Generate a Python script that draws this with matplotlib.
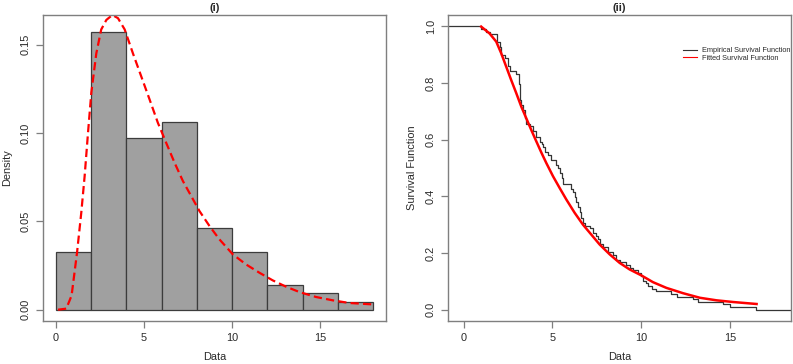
import numpy as np
import matplotlib
matplotlib.use("Agg")
import matplotlib.pyplot as plt

plt.rcParams['font.family'] = ['Liberation Sans', 'DejaVu Sans']

# ---------------- data ----------------
# (i) histogram (bins of width 2) and fitted density curve
bin_edges = [0, 2, 4, 6, 8, 10, 12, 14, 16, 18]
hist_density = [0.0324, 0.1574, 0.0972, 0.1065, 0.0463, 0.0324, 0.0139, 0.0093, 0.0046]

pdf_x = [0.13, 0.6, 0.9, 1.21, 1.45, 1.64, 1.83, 2.02, 2.30, 2.58, 2.87, 3.21, 3.53,
         3.91, 4.38, 4.85, 5.32, 5.79, 6.26, 6.74, 7.21, 7.68, 8.15, 8.72, 9.28,
         10.04, 10.79, 11.55, 12.30, 13.06, 13.81, 14.75, 15.70, 16.64, 17.96]
pdf_y = [0.0, 0.0006, 0.008, 0.0324, 0.055, 0.0756, 0.100, 0.123, 0.145, 0.1586, 0.164,
         0.1668, 0.165, 0.1586, 0.145, 0.132, 0.119, 0.1058, 0.0945, 0.0831, 0.0728,
         0.0643, 0.0558, 0.0473, 0.0398, 0.0313, 0.0256, 0.0209, 0.0166, 0.0130,
         0.0100, 0.0072, 0.0053, 0.0038, 0.0030]

# (ii) empirical survival function (step knots) and fitted survival curve
esf_x = [-1.0, 0.98, 1.26, 1.45, 1.87, 2.07, 2.11, 2.30, 2.48, 2.63, 2.95, 3.14, 3.18,
         3.25, 3.33, 3.45, 3.52, 3.75, 3.90, 4.08, 4.27, 4.40, 4.46, 4.60, 4.75, 4.93,
         5.22, 5.30, 5.40, 5.55, 5.59, 6.06, 6.15, 6.25, 6.35, 6.44, 6.55, 6.63, 6.72,
         6.81, 7.10, 7.29, 7.45, 7.57, 7.70, 7.85, 8.13, 8.41, 8.60, 8.79, 9.17, 9.35,
         9.54, 9.80, 10.01, 10.11, 10.25, 10.39, 10.60, 10.86, 11.71, 12.00, 12.93,
         13.21, 14.63, 15.00, 16.50, 19.0]
esf_y = [1.0, 0.991, 0.981, 0.972, 0.944, 0.926, 0.898, 0.889, 0.861, 0.843, 0.833,
         0.796, 0.741, 0.722, 0.704, 0.676, 0.657, 0.648, 0.630, 0.611, 0.593, 0.583,
         0.574, 0.556, 0.546, 0.528, 0.509, 0.500, 0.481, 0.463, 0.444, 0.426, 0.417,
         0.398, 0.380, 0.361, 0.343, 0.324, 0.306, 0.296, 0.287, 0.269, 0.259, 0.250,
         0.231, 0.222, 0.204, 0.194, 0.176, 0.167, 0.157, 0.148, 0.139, 0.130, 0.120,
         0.102, 0.093, 0.083, 0.074, 0.065, 0.056, 0.046, 0.037, 0.028, 0.019, 0.009,
         0.0, 0.0]

fit_x = [0.98, 1.45, 1.83, 2.11, 2.39, 2.67, 2.96, 3.24, 3.52, 3.80, 4.09, 4.37, 4.65,
         5.03, 5.40, 5.78, 6.25, 6.72, 7.19, 7.66, 8.23, 8.79, 9.35, 10.01, 10.67,
         11.42, 12.37, 13.31, 14.25, 15.19, 16.51]
fit_y = [0.999, 0.975, 0.946, 0.905, 0.858, 0.811, 0.764, 0.717, 0.676, 0.635, 0.594,
         0.555, 0.518, 0.471, 0.430, 0.389, 0.342, 0.300, 0.265, 0.230, 0.195, 0.165,
         0.142, 0.121, 0.097, 0.077, 0.058, 0.042, 0.033, 0.027, 0.020]

titles = ["(i)", "(ii)"]
legend_labels = ["Empirical Survival Function", "Fitted Survival Function"]

# ---------------- figure ----------------
W, H = 793, 364
fig = plt.figure(figsize=(W / 100, H / 100), dpi=100)

def px_axes(l, r, t, b):
    return fig.add_axes([l / W, 1 - b / H, (r - l) / W, (b - t) / H])

ax1 = px_axes(43, 386, 15, 321)
ax2 = px_axes(448, 791, 15, 321)

frame_col = '#7f7f7f'
text_col = '#2a2a2a'
fs = 7.9

for ax in (ax1, ax2):
    for s in ax.spines.values():
        s.set_color(frame_col)
        s.set_linewidth(1.0)
    ax.tick_params(axis='both', colors=frame_col, labelcolor=text_col,
                   labelsize=fs, length=5, width=0.9)
    ax.tick_params(axis='x', pad=3.4)
    ax.tick_params(axis='y', pad=3.6)

# (i)
widths = np.diff(bin_edges)
ax1.bar(bin_edges[:-1], hist_density, width=widths, align='edge',
        color='#a0a0a0', edgecolor='#3c3c3c', linewidth=0.9)
line, = ax1.plot(pdf_x, pdf_y, color='red', lw=1.6)
line.set_dashes((3.7, 1.9))
ax1.set_xlim(-0.72, 18.72)
ax1.set_ylim(-0.0064, 0.1668)
ax1.set_xticks([0, 5, 10, 15])
ax1.set_yticks([0.0, 0.05, 0.10, 0.15])
ax1.set_yticklabels(["0.00", "0.05", "0.10", "0.15"])
ax1.set_xlabel("Data", fontsize=fs, color=text_col, labelpad=6.5)
ax1.set_ylabel("Density", fontsize=fs, color=text_col, labelpad=6.5)
ax1.set_title(titles[0], fontsize=fs, fontweight='bold', color=text_col, pad=3)

# (ii)
ax2.plot(esf_x, esf_y, drawstyle='steps-post', color='#353535', lw=0.9,
         label=legend_labels[0])
ax2.plot(fit_x, fit_y, color='red', lw=1.8, label=legend_labels[1])
ax2.set_xlim(-0.89, 18.45)
ax2.set_ylim(-0.04, 1.04)
ax2.set_xticks([0, 5, 10, 15])
ax2.set_yticks([0.0, 0.2, 0.4, 0.6, 0.8, 1.0])
ax2.set_yticklabels(["0.0", "0.2", "0.4", "0.6", "0.8", "1.0"])
ax2.set_xlabel("Data", fontsize=fs, color=text_col, labelpad=6.5)
ax2.set_ylabel("Survival Function", fontsize=fs, color=text_col, labelpad=6.5)
ax2.set_title(titles[1], fontsize=fs, fontweight='bold', color=text_col, pad=3)

leg = ax2.legend(loc='upper left', bbox_to_anchor=(683 / W, 1 - 47 / H),
                 bbox_transform=fig.transFigure, frameon=False, fontsize=5.3,
                 handlelength=1.9, handletextpad=0.65, labelspacing=0.1,
                 borderpad=0, borderaxespad=0)
for h in leg.get_lines():
    h.set_linewidth(0.8)
for t in leg.get_texts():
    t.set_color(text_col)

for ax in (ax1, ax2):
    for lab in ax.get_yticklabels():
        lab.set_rotation(90)
        lab.set_va('center')

fig.savefig("out.png", dpi=100)
